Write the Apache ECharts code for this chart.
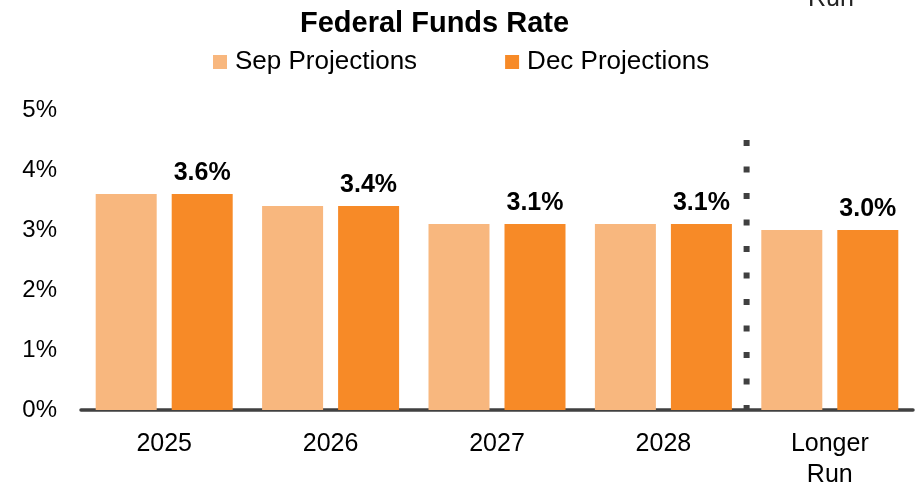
<!DOCTYPE html>
<html>
<head>
<meta charset="utf-8">
<script src="https://cdn.jsdelivr.net/npm/echarts@6/dist/echarts.min.js"></script>
<style>
  html, body { margin: 0; padding: 0; background: #fff; }
  #chart { width: 923px; height: 491px; }
</style>
</head>
<body>
<div id="chart"></div>
<script>
// 数据
const categories = ['2025', '2026', '2027', '2028', 'Longer\nRun']
const sepValues = [3.6, 3.4, 3.1, 3.1, 3.0]
const decValues = [3.6, 3.4, 3.1, 3.1, 3.0]
// 虚线分隔 (2028 与 Longer Run 之间)
const dividerX = 4
const dividerTop = 4.5

const FONT = 'Liberation Sans, Arial, sans-serif'

const chart = echarts.init(document.getElementById('chart'), null, { renderer: 'canvas' })
const option = {
  animation: false,
  backgroundColor: '#fff',
  textStyle: { fontFamily: FONT },
  title: {
    text: 'Federal Funds Rate',
    left: 295,
    top: 4,
    textStyle: { fontSize: 29, fontWeight: 'bold', color: '#000', fontFamily: FONT }
  },
  legend: {
    left: 208,
    top: 44,
    itemWidth: 14,
    itemHeight: 14,
    itemGap: 88,
    icon: 'rect',
    textStyle: { fontSize: 26, color: '#000', fontFamily: FONT, padding: [0, 0, 0, 3] },
    data: ['Sep Projections', 'Dec Projections']
  },
  graphic: [
    {
      type: 'text',
      left: 808,
      top: -13,
      style: { text: 'Run', fontSize: 25, fill: '#222', fontFamily: FONT }
    }
  ],
  grid: { left: 81, right: 10, top: 110, bottom: 80, containLabel: false },
  xAxis: [
    {
      type: 'category',
      data: categories,
      axisLine: { lineStyle: { color: '#404040', width: 3.5 } },
      axisTick: { show: false },
      axisLabel: { fontSize: 25, color: '#000', margin: 19, lineHeight: 31, fontFamily: FONT }
    },
    {
      // 辅助轴: 用于绘制分隔虚线
      type: 'value',
      min: 0,
      max: categories.length,
      show: false
    }
  ],
  yAxis: {
    type: 'value',
    min: 0,
    max: 5,
    interval: 1,
    axisLine: { show: false },
    axisTick: { show: false },
    splitLine: { show: false },
    axisLabel: {
      fontSize: 24,
      color: '#000',
      margin: 24,
      padding: [6, 0, 0, 0],
      formatter: '{value}%',
      fontFamily: FONT
    }
  },
  series: [
    {
      name: 'Sep Projections',
      type: 'bar',
      data: sepValues,
      barWidth: 61,
      barGap: '24.6%',
      itemStyle: { color: '#F8B77E' }
    },
    {
      name: 'Dec Projections',
      type: 'bar',
      data: decValues,
      barWidth: 61,
      itemStyle: { color: '#F78A27' },
      label: {
        show: true,
        position: 'top',
        distance: 8,
        fontSize: 25,
        fontWeight: 'bold',
        color: '#000',
        fontFamily: FONT,
        formatter: p => p.value.toFixed(1) + '%'
      }
    },
    {
      type: 'line',
      xAxisIndex: 1,
      data: [[dividerX, dividerTop], [dividerX, 0]],
      symbol: 'none',
      silent: true,
      z: 5,
      lineStyle: { color: '#404040', width: 6, type: [6, 20.5], cap: 'butt' }
    }
  ]
}
chart.setOption(option)
</script>
</body>
</html>
